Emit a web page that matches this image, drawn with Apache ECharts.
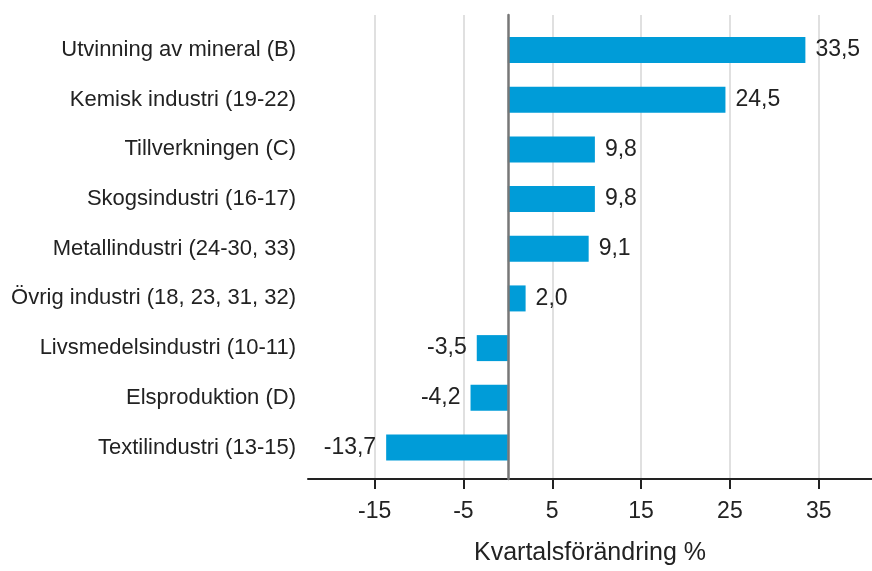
<!DOCTYPE html>
<html>
<head>
<meta charset="utf-8">
<title>Kvartalsförändring</title>
<script src="https://cdn.jsdelivr.net/npm/echarts@6/dist/echarts.min.js"></script>
<style>
  html, body { margin: 0; padding: 0; background: #fff; }
  #main { width: 872px; height: 571px; }
</style>
</head>
<body>
<div id="main"></div>
<script type="text/javascript">
    // data
    var categories = [
      'Utvinning av mineral (B)',
      'Kemisk industri (19-22)',
      'Tillverkningen (C)',
      'Skogsindustri (16-17)',
      'Metallindustri (24-30, 33)',
      'Övrig industri (18, 23, 31, 32)',
      'Livsmedelsindustri (10-11)',
      'Elsproduktion (D)',
      'Textilindustri (13-15)'
    ];
    var values = [33.5, 24.5, 9.8, 9.8, 9.1, 2.0, -3.5, -4.2, -13.7];
    var xTicks = [-15, -5, 5, 15, 25, 35];

    var font = 'Arial, "Liberation Sans", sans-serif';
    var textColor = '#222';

    var chart = echarts.init(document.getElementById('main'));

    var barData = values.map(function (v) {
      return { value: v, label: { position: v < 0 ? 'left' : 'right' } };
    });

    var option = {
      animation: false,
      grid: [
        // grid 0: frame with split lines, x axis and zero line
        { left: 308, right: 0, top: 15, bottom: 88 },
        // grid 1: the bars
        { left: 308, right: 0, top: 25.2, bottom: 98.7 }
      ],
      xAxis: [{
        gridIndex: 0,
        type: 'value',
        min: -22.5,
        max: 41,
        name: 'Kvartalsförändring %',
        nameLocation: 'middle',
        nameGap: 62,
        nameTextStyle: { fontFamily: font, fontSize: 25, color: textColor },
        axisLine: { onZero: false, lineStyle: { color: '#222', width: 2 } },
        axisTick: { show: true, length: 10, customValues: xTicks, lineStyle: { color: '#222', width: 2 } },
        axisLabel: { customValues: xTicks, margin: 21, fontFamily: font, fontSize: 23, color: textColor },
        splitLine: { show: true, lineStyle: { color: '#e0e0e0', width: 2 } }
      }, {
        gridIndex: 1,
        type: 'value',
        min: -22.5,
        max: 41,
        show: false
      }],
      yAxis: [{
        // only used for the zero line
        gridIndex: 0,
        type: 'value',
        min: 0,
        max: 1,
        z: 5,
        axisLine: { show: true, onZero: true, lineStyle: { color: '#777', width: 2.5 } },
        axisTick: { show: false },
        axisLabel: { show: false },
        splitLine: { show: false }
      }, {
        gridIndex: 1,
        type: 'category',
        inverse: true,
        data: categories,
        axisLine: { show: false },
        axisTick: { show: false },
        axisLabel: { margin: 12, fontFamily: font, fontSize: 22, color: textColor }
      }],
      series: [{
        type: 'bar',
        xAxisIndex: 1,
        yAxisIndex: 1,
        data: barData,
        barWidth: 26,
        itemStyle: { color: '#009cd8' },
        label: {
          show: true,
          distance: 10,
          fontFamily: font,
          fontSize: 23,
          color: textColor,
          formatter: function (p) {
            return p.value.toFixed(1).replace('.', ',');
          }
        }
      }]
    };

    chart.setOption(option);
</script>
</body>
</html>
